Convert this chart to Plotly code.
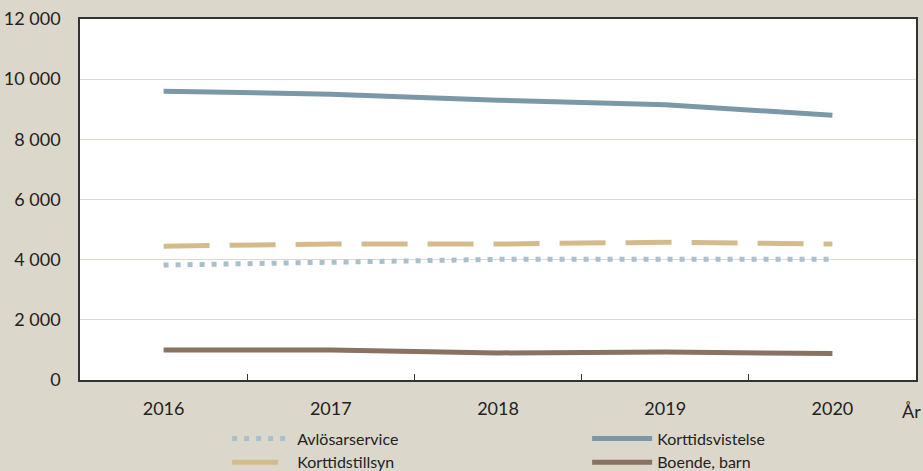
import plotly.graph_objects as go

years = [2016, 2017, 2018, 2019, 2020]
year_labels = ["2016", "2017", "2018", "2019", "2020"]
avlosarservice = [3820, 3920, 4010, 4010, 4010]
korttidsvistelse = [9600, 9500, 9300, 9150, 8800]
korttidstillsyn = [4450, 4520, 4520, 4580, 4520]
boende_barn = [1000, 1000, 900, 930, 880]

FONT = "Lato"
BG = "#dbd8cb"

fig = go.Figure()
fig.add_trace(go.Scatter(x=years, y=avlosarservice, name="Avlösarservice", mode="lines",
                         line=dict(color="#a9c0cc", width=5, dash="5px,7px")))
fig.add_trace(go.Scatter(x=years, y=korttidsvistelse, name="Korttidsvistelse", mode="lines",
                         line=dict(color="#7b98a8", width=5)))
fig.add_trace(go.Scatter(x=years, y=korttidstillsyn, name="Korttidstillsyn", mode="lines",
                         line=dict(color="#d4bb8c", width=5, dash="46px,20px")))
fig.add_trace(go.Scatter(x=years, y=boende_barn, name="Boende, barn", mode="lines",
                         line=dict(color="#8a7262", width=5)))

# invisible trace to carry boundary ticks on overlay axis
fig.add_trace(go.Scatter(x=[years[0]], y=[None], xaxis="x2", showlegend=False, hoverinfo="skip"))

boundaries = [y + 0.5 for y in years[:-1]]

fig.update_layout(
    width=923, height=471,
    paper_bgcolor=BG, plot_bgcolor="white",
    margin=dict(l=80, r=7, t=19, b=91, autoexpand=False),
    separators=", ",
    font=dict(family=FONT, size=18, color="#222222"),
    xaxis=dict(range=[years[0] - 0.5, years[-1] + 0.5], tickvals=years, ticktext=year_labels,
               showgrid=False, zeroline=False, ticks="", showline=True, linecolor="#333333",
               linewidth=1.5, mirror=True, ticklabelstandoff=12),
    xaxis2=dict(overlaying="x", matches="x", side="bottom", tickvals=boundaries, ticks="inside",
                ticklen=6, tickcolor="#333333", showticklabels=False, showgrid=False,
                zeroline=False, showline=False),
    yaxis=dict(range=[0, 12000], dtick=2000, tickformat=",d", showgrid=True, gridcolor="#dcd9cc",
               gridwidth=1, zeroline=False, showline=True, linecolor="#333333", linewidth=1.5,
               mirror=True, ticks="", ticklabelstandoff=14),
    legend=dict(orientation="h", x=0.176, xanchor="left", yref="container", y=0.105, yanchor="top",
                entrywidth=285, entrywidthmode="pixels", bgcolor="rgba(0,0,0,0)",
                font=dict(family=FONT, size=16, color="#222222"), itemwidth=60,
                tracegroupgap=0),
    annotations=[dict(text="År", xref="paper", yref="paper", x=1.0, y=-0.05,
                      xanchor="right", xshift=7, yanchor="top", showarrow=False,
                      font=dict(family=FONT, size=18, color="#222222"))],
)

fig.write_html("out.html", config={"displayModeBar": False},
               post_script="document.body.style.margin='0';document.body.style.overflow='hidden';")
